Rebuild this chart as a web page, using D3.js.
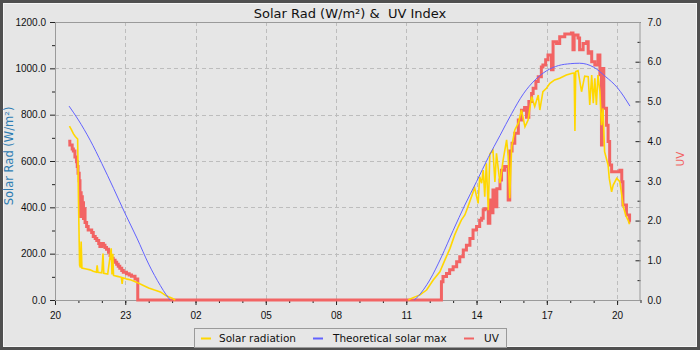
<!DOCTYPE html>
<html lang="en">
<head>
  <meta charset="UTF-8">
  <title>Solar Rad &amp; UV Index</title>
  <style>
    * {
      padding: 0;
      margin: 0;
    }

    body {
      background: #e6e6e6;
      font-family: "DejaVu Sans", sans-serif;
    }

    svg {
      display: block;
    }

    .axis text {
      font-size: 10px;
      fill: #111;
    }

    .axis line {
      stroke: #222;
    }

    .axis .domain {
      display: none;
    }

    .grid line {
      stroke: #bdbdbd;
      stroke-dasharray: 4 3;
    }
  </style>
</head>
<body>
  <svg id="svg"></svg>
  <script src="https://cdnjs.cloudflare.com/ajax/libs/d3/7.8.5/d3.min.js"></script>
  <script>
    // theoretical solar max (W/m²)
    const theoTimes = ["20:36", "21:00", "21:30", "22:00", "22:30", "23:00", "23:30", "00:00", "00:30", "00:45", "00:55",
      "06:00",
      "11:20", "11:30", "11:45", "12:00", "12:30", "13:00", "13:30", "14:00", "14:30", "15:00", "15:30", "16:00",
      "16:30", "17:00", "17:30", "18:00", "18:24", "19:00", "19:30", "20:00", "20:33"]
    const theoValues = [837, 777, 690, 589, 482, 372, 267, 155, 62, 22, 0,
      null,
      0, 15, 47, 86, 186, 300, 410, 511, 615, 710, 805, 890,
      950, 990, 1012, 1020, 1022, 1005, 965, 918, 837]

    // measured solar radiation (W/m²)
    const solarTimes = ["20:37", "20:42", "20:47", "20:52", "20:58", "21:00", "21:03", "21:05", "21:07", "21:09",
      "21:20", "21:30", "21:38", "21:46", "21:48", "21:50", "22:00", "22:03", "22:05", "22:15", "22:24", "22:26",
      "22:28", "22:30", "22:40", "22:50", "22:52", "22:54", "23:05", "23:15", "23:30", "23:45", "00:00", "00:15",
      "00:30", "00:45", "01:00", "01:08",
      "06:00",
      "11:05", "11:13", "11:35", "11:52", "12:09", "12:26", "12:39", "12:52", "13:04", "13:13", "13:21", "13:30",
      "13:38", "13:47", "13:55", "14:04", "14:08", "14:13", "14:17", "14:21", "14:25", "14:30", "14:34", "14:42",
      "14:47", "14:51", "15:00", "15:08", "15:17", "15:21", "15:25", "15:30", "15:38", "15:47", "15:55", "16:04",
      "16:12", "16:21", "16:29", "16:38", "16:42", "16:50", "16:59", "17:08", "17:20", "17:33", "17:50", "18:03",
      "18:10", "18:12", "18:14", "18:20", "18:29", "18:37", "18:46", "18:50", "18:55", "18:59", "19:03", "19:07",
      "19:11", "19:16", "19:20", "19:24", "19:28", "19:37", "19:40", "19:46", "19:50", "19:59", "20:07", "20:12",
      "20:15", "20:22", "20:28", "20:32"]
    const solarValues = [751, 735, 718, 706, 695, 446, 151, 140, 252, 138,
      134, 130, 124, 120, 150, 120, 117, 201, 115, 112, 223, 110,
      200, 106, 102, 98, 69, 96, 90, 86, 76, 64, 52, 43,
      35, 18, 8, 0,
      null,
      0, 7, 22, 43, 86, 122, 173, 223, 281, 316, 345, 367,
      403, 446, 485, 417, 532, 504, 561, 446, 590, 388, 630, 647,
      510, 633, 504, 604, 691, 620, 439, 662, 734, 763, 820, 748,
      777, 878, 835, 885, 820, 899, 914, 935, 950, 957, 971, 978,
      980, 730, 986, 990, 899, 966, 964, 842, 971, 850, 957, 842,
      971, 900, 755, 827, 640, 583, 525, 467, 496, 525, 511, 453,
      410, 367, 345, 327]

    // UV index
    const uvTimes = ["20:34", "20:38", "20:44", "20:47", "20:51", "20:55", "20:57", "20:59", "21:02", "21:04",
      "21:05", "21:07", "21:08", "21:10", "21:11", "21:13", "21:15", "21:17", "21:21", "21:25", "21:34", "21:38",
      "21:43", "21:47", "21:52", "21:55", "22:00", "22:04", "22:08", "22:12", "22:17", "22:21", "22:25", "22:29",
      "22:34", "22:38", "22:42", "22:46", "22:51", "22:55", "23:03", "23:10", "23:16", "23:25", "23:32",
      "12:30", "12:34", "12:43", "12:51", "13:00", "13:09", "13:17", "13:26", "13:34", "13:43", "13:51", "14:00",
      "14:08", "14:13", "14:17", "14:21", "14:30", "14:34", "14:38", "14:42", "14:49", "14:52", "15:00", "15:04",
      "15:12", "15:21", "15:25", "15:31", "15:38", "15:47", "15:55", "16:03", "16:08", "16:14", "16:21", "16:25",
      "16:32", "16:38", "16:46", "16:50", "16:57", "17:03", "17:12", "17:16", "17:25", "17:33", "17:46", "18:03",
      "18:07", "18:10", "18:20", "18:24", "18:33", "18:42", "18:46", "18:50", "18:55", "19:03", "19:11", "19:16",
      "19:20", "19:22", "19:26", "19:33", "19:37", "19:41", "19:46", "19:59", "20:07", "20:12", "20:15", "20:24",
      "20:32", "20:34"]
    const uvValues = [4.0, 3.9, 3.8, 3.75, 3.6, 3.48, 3.36, 3.19, 3.0, 2.1,
      2.7, 2.2, 2.6, 2.1, 2.45, 2.05, 2.3, 1.95, 1.85, 1.76, 1.7, 1.6,
      1.55, 1.5, 1.42, 1.35, 1.42, 1.38, 1.32, 1.28, 1.2, 1.12, 1.05, 1.0,
      0.95, 0.9, 0.85, 0.8, 0.74, 0.7, 0.66, 0.63, 0.6, 0.53, 0,
      0.46, 0.59, 0.67, 0.76, 0.84, 0.96, 1.09, 1.26, 1.38, 1.55, 1.76, 1.85,
      2.01, 2.06, 2.27, 2.3, 1.93, 2.52, 2.2, 2.77, 2.35, 2.8, 3.02, 3.27,
      3.36, 2.52, 3.75, 3.95, 4.2, 4.53, 4.78, 4.85, 4.6, 5.0, 5.2, 5.33,
      5.5, 5.62, 5.87, 5.92, 6.05, 6.17, 5.8, 6.5, 6.46, 6.63, 6.7, 6.72,
      6.3, 6.67, 6.6, 6.3, 6.46, 6.5, 6.21, 6.25, 6.0, 5.92, 6.17, 5.67,
      3.9, 5.83, 4.83, 4.4, 3.99, 3.4, 3.23, 3.23, 3.27, 2.98, 2.39, 2.14,
      1.97, 1.97]

    // x axis runs 20:00 to 21:00 the next day
    const xTickLabels = ["20", "23", "02", "05", "08", "11", "14", "17", "20"]
    const xDomain = ["20:00", "00:00", "21:00"]
    const leftTicks = [0, 200, 400, 600, 800, 1000, 1200]
    const leftMinor = [100, 300, 500, 700, 900, 1100]
    const rightTicks = [0, 1, 2, 3, 4, 5, 6, 7]
    const rightMinor = [0.5, 1.5, 2.5, 3.5, 4.5, 5.5, 6.5]

    const series = [
      { name: 'Solar radiation', color: '#ffd700' },
      { name: 'Theoretical solar max', color: '#6262ff' },
      { name: 'UV', color: '#f26464' }
    ]

    const dimension = {
      width: 700,
      height: 350,
      margin: { top: 22, right: 59.5, bottom: 50, left: 55 }
    }
    const plotRight = dimension.width - dimension.margin.right
    const plotBottom = dimension.height - dimension.margin.bottom

    // "HH:MM" strings -> dates, rolling over to the next day when time goes back
    function toDates(list) {
      let day = 0, prev = -1
      return list.map(s => {
        const [h, m] = s.split(':').map(Number)
        const mins = h * 60 + (m || 0)
        if (mins < prev) day++
        prev = mins
        return new Date(2024, 0, 1 + day, h, m || 0)
      })
    }

    const makeRows = (times, values) => toDates(times).map((t, i) => ({ t, v: values[i] }))
    const theoData = makeRows(theoTimes, theoValues)
    const solarData = makeRows(solarTimes, solarValues)
    const uvData = makeRows(uvTimes, uvValues)

    const domainDates = toDates(xDomain)
    const x0 = domainDates[0], x1 = domainDates[domainDates.length - 1]

    const x = d3.scaleTime().domain([x0, x1]).range([dimension.margin.left, plotRight])
    const y = d3.scaleLinear().domain([0, 1200]).range([plotBottom, dimension.margin.top])
    const yUV = d3.scaleLinear().domain([0, 7]).range([plotBottom, dimension.margin.top])

    const svg = d3.select('#svg')
      .attr('width', dimension.width)
      .attr('height', dimension.height)

    // outer frame
    svg.append('rect')
      .attr('x', 1.5).attr('y', 1.5)
      .attr('width', dimension.width - 3).attr('height', dimension.height - 3)
      .attr('fill', '#e6e6e6')
      .attr('stroke', '#505050')
      .attr('stroke-width', 3)
    svg.append('rect')
      .attr('x', 3.5).attr('y', 3.5)
      .attr('width', dimension.width - 7).attr('height', dimension.height - 7)
      .attr('fill', 'none')
      .attr('stroke', '#f6f6f6')
      .attr('stroke-width', 1)

    svg.append('text')
      .attr('x', dimension.width / 2)
      .attr('y', 17.5)
      .attr('text-anchor', 'middle')
      .style('font-size', '13px')
      .style('fill', '#111')
      .style('white-space', 'pre')
      .text('Solar Rad (W/m²) &  UV Index')

    const xTicks = toDates(xTickLabels.map(h => h + ':00'))
    const hours = d3.timeHour.range(x0, d3.timeMinute.offset(x1, 1))

    // grid
    svg.append('g')
      .attr('class', 'grid')
      .selectAll('line')
      .data(leftTicks.slice(1, -1))
      .join('line')
      .attr('x1', dimension.margin.left).attr('x2', plotRight)
      .attr('y1', d => Math.round(y(d)) + 0.5).attr('y2', d => Math.round(y(d)) + 0.5)
    svg.append('g')
      .attr('class', 'grid')
      .selectAll('line')
      .data(xTicks.slice(1))
      .join('line')
      .attr('x1', d => Math.round(x(d)) + 0.5).attr('x2', d => Math.round(x(d)) + 0.5)
      .attr('y1', dimension.margin.top).attr('y2', plotBottom)

    // axes
    svg.append('g')
      .attr('class', 'axis')
      .attr('transform', `translate(${dimension.margin.left}, 0)`)
      .call(d3.axisLeft(y).tickValues(leftTicks).tickFormat(d3.format('.1f')).tickSize(5).tickPadding(4))
    svg.append('g')
      .attr('class', 'axis')
      .attr('transform', `translate(${dimension.margin.left}, 0)`)
      .call(d3.axisLeft(y).tickValues(leftMinor).tickFormat('').tickSize(3))

    svg.append('g')
      .attr('class', 'axis')
      .attr('transform', `translate(${plotRight}, 0)`)
      .call(d3.axisRight(yUV).tickValues(rightTicks).tickFormat(d3.format('.1f')).tickSize(-5).tickPadding(7))
    svg.append('g')
      .attr('class', 'axis')
      .attr('transform', `translate(${plotRight}, 0)`)
      .call(d3.axisRight(yUV).tickValues(rightMinor).tickFormat('').tickSize(-3))

    svg.append('g')
      .attr('class', 'axis')
      .attr('transform', `translate(0, ${plotBottom})`)
      .call(d3.axisBottom(x).tickValues(xTicks).tickFormat(d3.timeFormat('%H')).tickSize(5).tickPadding(7))
    svg.append('g')
      .attr('class', 'axis')
      .attr('transform', `translate(0, ${plotBottom})`)
      .call(d3.axisBottom(x).tickValues(hours).tickFormat('').tickSize(3))

    // plot frame
    svg.append('rect')
      .attr('x', dimension.margin.left + 0.5).attr('y', dimension.margin.top + 0.5)
      .attr('width', plotRight - dimension.margin.left - 1)
      .attr('height', plotBottom - dimension.margin.top)
      .attr('fill', 'none')
      .attr('stroke', '#9a9a9a')

    svg.append('text')
      .attr('transform', 'translate(13, 156) rotate(-90)')
      .attr('text-anchor', 'middle')
      .style('font-size', '11.5px')
      .style('fill', '#2e7db3')
      .text('Solar Rad (W/m²)')

    svg.append('text')
      .attr('transform', 'translate(684, 159) rotate(-90)')
      .attr('text-anchor', 'middle')
      .style('font-size', '10.5px')
      .style('fill', series[2].color)
      .text('UV')

    // lines
    svg.append('path')
      .datum(uvData)
      .attr('fill', 'none')
      .attr('stroke', series[2].color)
      .attr('stroke-width', 3)
      .attr('d', d3.line().x(d => x(d.t)).y(d => yUV(d.v)).curve(d3.curveStepAfter))

    svg.append('path')
      .datum(solarData)
      .attr('fill', 'none')
      .attr('stroke', series[0].color)
      .attr('stroke-width', 1.6)
      .attr('d', d3.line().defined(d => d.v != null).x(d => x(d.t)).y(d => y(d.v)))

    svg.append('path')
      .datum(theoData)
      .attr('fill', 'none')
      .attr('stroke', series[1].color)
      .attr('stroke-width', 1)
      .attr('d', d3.line().defined(d => d.v != null).x(d => x(d.t)).y(d => y(d.v)).curve(d3.curveMonotoneX))

    // legend
    const legendPos = [{ lx: 201, tx: 219 }, { lx: 313, tx: 333 }, { lx: 464, tx: 484 }]
    const legend = svg.append('g').attr('id', 'legend')
    legend.append('rect')
      .attr('x', 194.5).attr('y', 328.5)
      .attr('width', 312).attr('height', 19)
      .attr('fill', '#e6e6e6')
      .attr('stroke', '#9a9a9a')
    const items = legend.selectAll('g.item')
      .data(series)
      .join('g')
      .attr('class', 'item')
    items.append('line')
      .attr('x1', (d, i) => legendPos[i].lx).attr('x2', (d, i) => legendPos[i].lx + 10)
      .attr('y1', 338.5).attr('y2', 338.5)
      .attr('stroke', d => d.color)
      .attr('stroke-width', 2)
    items.append('text')
      .attr('x', (d, i) => legendPos[i].tx)
      .attr('y', 342)
      .style('font-size', '10.5px')
      .style('fill', '#111')
      .text(d => d.name)
  </script>
</body>
</html>
